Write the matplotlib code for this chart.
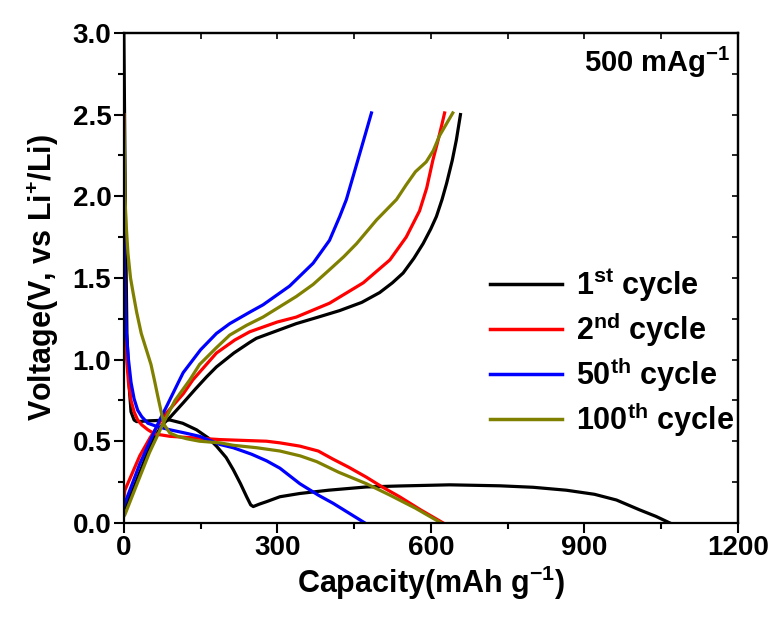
import matplotlib
matplotlib.use("Agg")
import matplotlib.pyplot as plt
from matplotlib.ticker import MultipleLocator, FormatStrFormatter

plt.rcParams['font.family'] = ['Liberation Sans', 'DejaVu Sans']
plt.rcParams['font.weight'] = 'bold'
plt.rcParams['mathtext.fontset'] = 'custom'
plt.rcParams['mathtext.rm'] = 'Liberation Sans:bold'
plt.rcParams['mathtext.bf'] = 'Liberation Sans:bold'
plt.rcParams['mathtext.it'] = 'Liberation Sans:bold'
plt.rcParams['mathtext.default'] = 'bf'

# ---- data (capacity mAh/g, voltage V) ----
c1_dis_x = [0, 3, 6, 10, 14, 20, 25, 50, 90, 115, 142, 165, 181, 200, 214, 228, 240, 248, 253, 265, 279, 305, 344, 400, 474, 539, 637, 735, 800, 865, 920, 963, 1008, 1040, 1067]
c1_dis_y = [3.0, 1.9, 1.16, 0.85, 0.68, 0.63, 0.62, 0.625, 0.63, 0.61, 0.57, 0.52, 0.47, 0.40, 0.325, 0.24, 0.16, 0.11, 0.10, 0.115, 0.13, 0.16, 0.18, 0.20, 0.22, 0.226, 0.233, 0.227, 0.218, 0.20, 0.175, 0.14, 0.08, 0.04, 0.0]
c1_chg_x = [0, 20, 40, 57, 75, 90, 116, 140, 162, 181, 215, 246, 259, 311, 337, 380, 422, 465, 500, 525, 546, 567, 585, 600, 611, 622, 631, 642, 650, 658]
c1_chg_y = [0.08, 0.22, 0.38, 0.51, 0.60, 0.645, 0.735, 0.82, 0.895, 0.955, 1.04, 1.105, 1.13, 1.19, 1.22, 1.26, 1.30, 1.35, 1.41, 1.47, 1.53, 1.62, 1.71, 1.80, 1.876, 1.98, 2.08, 2.22, 2.345, 2.50]

c2_dis_x = [0, 1, 2, 4.5, 9, 14, 20, 27, 35, 47, 60, 90, 188, 279, 305, 344, 380, 409, 440, 474, 505, 539, 580, 624]
c2_dis_y = [2.5, 1.6, 1.24, 1.04, 0.86, 0.75, 0.68, 0.63, 0.60, 0.57, 0.545, 0.53, 0.51, 0.50, 0.49, 0.47, 0.44, 0.39, 0.34, 0.28, 0.22, 0.16, 0.08, 0.0]
c2_chg_x = [0, 2, 31, 51, 77, 116, 135, 181, 217, 246, 300, 337, 402, 468, 520, 552, 578, 592, 604, 614, 621, 627]
c2_chg_y = [0.15, 0.2, 0.41, 0.52, 0.65, 0.79, 0.876, 1.04, 1.12, 1.17, 1.23, 1.26, 1.345, 1.47, 1.61, 1.75, 1.91, 2.05, 2.22, 2.34, 2.43, 2.51]

c50_dis_x = [0, 1, 3, 5, 9, 14, 20, 27, 35, 47, 65, 90, 120, 148, 188, 214, 250, 279, 305, 344, 380, 409, 440, 471]
c50_dis_y = [2.0, 1.6, 1.3, 1.16, 1.0, 0.86, 0.76, 0.69, 0.65, 0.61, 0.59, 0.57, 0.55, 0.53, 0.48, 0.46, 0.42, 0.38, 0.335, 0.24, 0.17, 0.12, 0.06, 0.0]
c50_chg_x = [0, 2, 31, 51, 70, 83, 109, 116, 150, 181, 207, 246, 272, 324, 370, 402, 422, 435, 448, 461, 473, 484]
c50_chg_y = [0.1, 0.12, 0.36, 0.50, 0.63, 0.71, 0.876, 0.92, 1.06, 1.16, 1.22, 1.29, 1.335, 1.45, 1.59, 1.73, 1.876, 1.98, 2.12, 2.26, 2.39, 2.51]

c100_dis_x = [0, 1, 2, 5, 8, 13, 18, 25, 34, 44, 53, 60, 66, 73, 79, 90, 105, 123, 148, 188, 214, 260, 305, 345, 377, 420, 474, 520, 570, 620]
c100_dis_y = [2.5, 2.3, 2.0, 1.8, 1.65, 1.5, 1.41, 1.29, 1.16, 1.06, 0.97, 0.87, 0.78, 0.68, 0.60, 0.55, 0.53, 0.515, 0.50, 0.49, 0.475, 0.46, 0.44, 0.41, 0.375, 0.31, 0.24, 0.17, 0.09, 0.0]
c100_chg_x = [0, 2, 31, 50, 77, 100, 129, 148, 180, 207, 240, 272, 337, 370, 402, 430, 455, 494, 533, 552, 570, 591, 605, 617, 630, 643]
c100_chg_y = [0.04, 0.05, 0.28, 0.43, 0.61, 0.75, 0.876, 0.97, 1.07, 1.15, 1.21, 1.26, 1.386, 1.46, 1.55, 1.63, 1.71, 1.855, 1.98, 2.07, 2.15, 2.21, 2.28, 2.37, 2.44, 2.51]

labels = [r'1$^{st}$ cycle', r'2$^{nd}$ cycle', r'50$^{th}$ cycle', r'100$^{th}$ cycle']
colors = ['#000000', '#ff0000', '#0000ff', '#808000']

fig = plt.figure(figsize=(7.79, 6.21), dpi=100)
ax = fig.add_axes([0.159, 0.158, 0.788, 0.789])

series = [(c1_dis_x, c1_dis_y, c1_chg_x, c1_chg_y),
          (c2_dis_x, c2_dis_y, c2_chg_x, c2_chg_y),
          (c50_dis_x, c50_dis_y, c50_chg_x, c50_chg_y),
          (c100_dis_x, c100_dis_y, c100_chg_x, c100_chg_y)]
lw = 2.3
for (dx, dy, cx, cy), lab, col in zip(series, labels, colors):
    ax.plot(dx, dy, color=col, lw=lw, label=lab, solid_joinstyle='round')
    ax.plot(cx, cy, color=col, lw=lw, solid_joinstyle='round')

ax.set_xlim(0, 1200)
ax.set_ylim(0, 3.0)
ax.xaxis.set_major_locator(MultipleLocator(300))
ax.xaxis.set_minor_locator(MultipleLocator(150))
ax.yaxis.set_major_locator(MultipleLocator(0.5))
ax.yaxis.set_minor_locator(MultipleLocator(0.25))
ax.yaxis.set_major_formatter(FormatStrFormatter('%.1f'))

for s in ax.spines.values():
    s.set_linewidth(1.6)
ax.tick_params(which='both', direction='out', width=1.5, labelsize=20, pad=2,
               top=False, right=False)
ax.tick_params(which='major', length=7)
ax.tick_params(which='minor', length=4)
for lbl in ax.get_xticklabels() + ax.get_yticklabels():
    lbl.set_fontweight('bold')

# inward ticks on top and right
sec_x = ax.secondary_xaxis('top')
sec_x.xaxis.set_major_locator(MultipleLocator(300))
sec_x.xaxis.set_minor_locator(MultipleLocator(150))
sec_x.tick_params(which='both', direction='in', width=1.2, labeltop=False, length=4)
sec_x.spines['top'].set_linewidth(1.6)
sec_y = ax.secondary_yaxis('right')
sec_y.yaxis.set_major_locator(MultipleLocator(0.5))
sec_y.yaxis.set_minor_locator(MultipleLocator(0.25))
sec_y.tick_params(which='both', direction='in', width=1.2, labelright=False, length=4)
sec_y.spines['right'].set_linewidth(1.6)

ax.set_xlabel(r'Capacity(mAh g$^{-1}$)', fontsize=22, fontweight='bold', labelpad=2)
ax.set_ylabel(r'Voltage(V, vs Li$^{+}$/Li)', fontsize=22, fontweight='bold', labelpad=8)

ax.text(0.988, 0.975, r'500 mAg$^{-1}$', transform=ax.transAxes, ha='right', va='top',
        fontsize=21, fontweight='bold')

leg = ax.legend(loc='center right', bbox_to_anchor=(1.016, 0.348), frameon=False,
                fontsize=22, handlelength=2.35, handletextpad=0.45, labelspacing=0.2,
                borderaxespad=0.05)
for t in leg.get_texts():
    t.set_fontweight('bold')
for l in leg.get_lines():
    l.set_linewidth(2.5)

fig.savefig('out.png', dpi=100)
